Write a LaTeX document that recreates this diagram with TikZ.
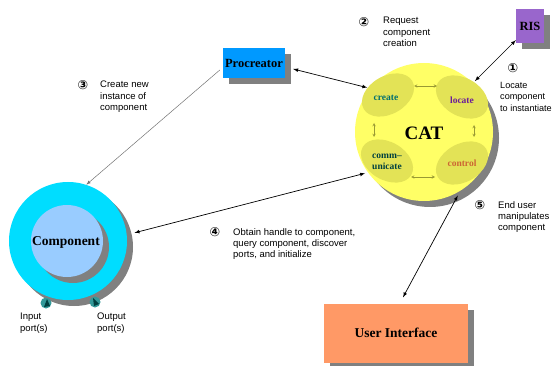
\documentclass[tikz,border=0pt]{standalone}
\usepackage{fontspec}
\setmainfont{Liberation Serif}
\setsansfont{Liberation Sans}
\newfontfamily\numfont{DejaVu Sans}
\usepackage{xcolor}
\usetikzlibrary{shapes,arrows,positioning,shadows}

\definecolor{catyellow}{HTML}{FFFF66}
\definecolor{blobyellow}{HTML}{E3E356}
\definecolor{shadowgray}{HTML}{808080}
\definecolor{risviolet}{HTML}{9966CC}
\definecolor{procblue}{HTML}{0099FF}
\definecolor{compcyan}{HTML}{00DDFF}
\definecolor{compblue}{HTML}{99CCFF}
\definecolor{uisalmon}{HTML}{FF9966}
\definecolor{portteal}{HTML}{339999}
\definecolor{portdark}{HTML}{004040}
\definecolor{olivearrow}{HTML}{999933}
\definecolor{createcol}{HTML}{006F6F}
\definecolor{locatecol}{HTML}{6A1A9A}
\definecolor{commcol}{HTML}{00403F}
\definecolor{controlcol}{HTML}{CC6633}

\tikzset{
  shadowed/.style={drop shadow={shadow xshift=6pt, shadow yshift=-6pt, fill=shadowgray, opacity=1}},
  box/.style={shape=rectangle, shadowed, font=\fontsize{12.5}{14}\selectfont\bfseries, inner sep=0pt},
  blob/.style={shape=ellipse, fill=blobyellow, minimum width=56pt, minimum height=38pt, inner sep=0pt},
  blobtext/.style={font=\fontsize{9.5}{10.5}\selectfont\bfseries, align=center, inner sep=0pt},
  note/.style={font=\sffamily\fontsize{9.5}{11.3}\selectfont, align=left, anchor=north west, inner sep=0pt},
  num/.style={font=\numfont\bfseries\fontsize{12.5}{12.5}\selectfont, inner sep=0pt},
  link/.style={<->, >=latex, line width=0.7pt},
  smalllink/.style={<->, >=stealth, olivearrow, line width=0.5pt},
  port/.style={shape=circle, fill=portteal, minimum size=11pt, inner sep=0pt}
}

\begin{document}
\begin{tikzpicture}[x=1pt, y=-1pt]
\useasboundingbox (0,0) rectangle (554,366);

% CAT and its four parts
\node [shape=circle, fill=catyellow, minimum size=138pt, inner sep=0pt, shadowed, outer sep=3pt] at (424,132) (cat) {};
\node [blob, rotate=30]  at (388,95)  (create) {};
\node [blob, rotate=-30] at (462,97)  (locate) {};
\node [blob, rotate=-30] at (387,161) (communicate) {};
\node [blob, rotate=30]  at (462,163) (control) {};

\node [blobtext, text=createcol]  at (386,98)  (create_txt) {create};
\node [blobtext, text=locatecol]  at (462,100) (locate_txt) {locate};
\node [blobtext, text=commcol]    at (387,162) (comm_txt) {comm--\\unicate};
\node [blobtext, text=controlcol] at (462,163) (control_txt) {control};
\node [font=\fontsize{19}{19}\selectfont\bfseries] at (424,133) (cat_txt) {CAT};

\draw [smalllink] ([shift={(26,-9)}]create.center) -- ([shift={(-25,-11)}]locate.center);
\draw [smalllink] ([shift={(12,28)}]locate.center) -- ([shift={(12,-26)}]control.center);
\draw [smalllink] ([shift={(24,16)}]communicate.center) -- ([shift={(-27,14)}]control.center);
\draw [smalllink] ([shift={(-14,28)}]create.center) -- ([shift={(-13,-24)}]communicate.center);

% Boxes
\node [box, fill=risviolet, minimum width=28pt, minimum height=34pt] at (530,26) (ris) {RIS};
\node [box, fill=procblue, minimum width=62pt, minimum height=30pt] at (254,63) (procreator) {Procreator};
\node [box, fill=uisalmon, minimum width=144pt, minimum height=59pt, font=\fontsize{13.5}{15}\selectfont\bfseries] at (396,333) (ui) {User Interface};

% Component with its ports
\node [shape=circle, fill=compcyan, minimum size=118pt, inner sep=0pt, shadowed] at (68,241) (comp) {};
\node [shape=circle, fill=compblue, minimum size=72pt, inner sep=0pt, shadowed] at (67,241) (comp_inner) {};
\node [font=\fontsize{13.5}{15}\selectfont\bfseries] at (66,242) (comp_txt) {Component};

\node [port] at (46,303) (in_port) {};
\node [port] at (95,302) (out_port) {};
\fill [portdark] ([shift={(1,-4)}]in_port.center) -- ([shift={(4,3)}]in_port.center) -- ([shift={(-2,4)}]in_port.center) -- cycle;
\fill [portdark] ([shift={(-2,-4)}]out_port.center) -- ([shift={(4,2)}]out_port.center) -- ([shift={(-1,4)}]out_port.center) -- cycle;

\node [note] at (20,313) (in_lbl) {Input\\port(s)};
\node [note] at (97,313) (out_lbl) {Output\\port(s)};

% Connectors
\draw [link] (ris) -- (cat.45);
\draw [link] ([shift={(8,6)}]procreator.east) -- (cat.142);
\draw [->, >=latex, draw=black!55, line width=0.5pt] ([shift={(-3,7)}]procreator.west) -- (comp.72);
\draw [link] ([xshift=8pt]comp.8) -- (cat.215);
\draw [link] (cat.-62) -- ([shift={(7,-6)}]ui.north);

% Steps
\node [num] at (513,68) (n1) {①};
\node [note, font=\sffamily\fontsize{9.1}{11.3}\selectfont] at (500,82) (step1) {Locate\\component\\to instantiate};
\node [num] at (364,22) (n2) {②};
\node [note] at (383,17) (step2) {Request\\component\\creation};
\node [num] at (83,85) (n3) {③};
\node [note] at (100,81) (step3) {Create new\\instance of\\component};
\node [num] at (215,232) (n4) {④};
\node [note] at (233,228) (step4) {Obtain handle to component,\\query component, discover\\ports, and initialize};
\node [num] at (480,205) (n5) {⑤};
\node [note] at (498,201) (step5) {End user\\manipulates\\component};

\end{tikzpicture}
\end{document}
